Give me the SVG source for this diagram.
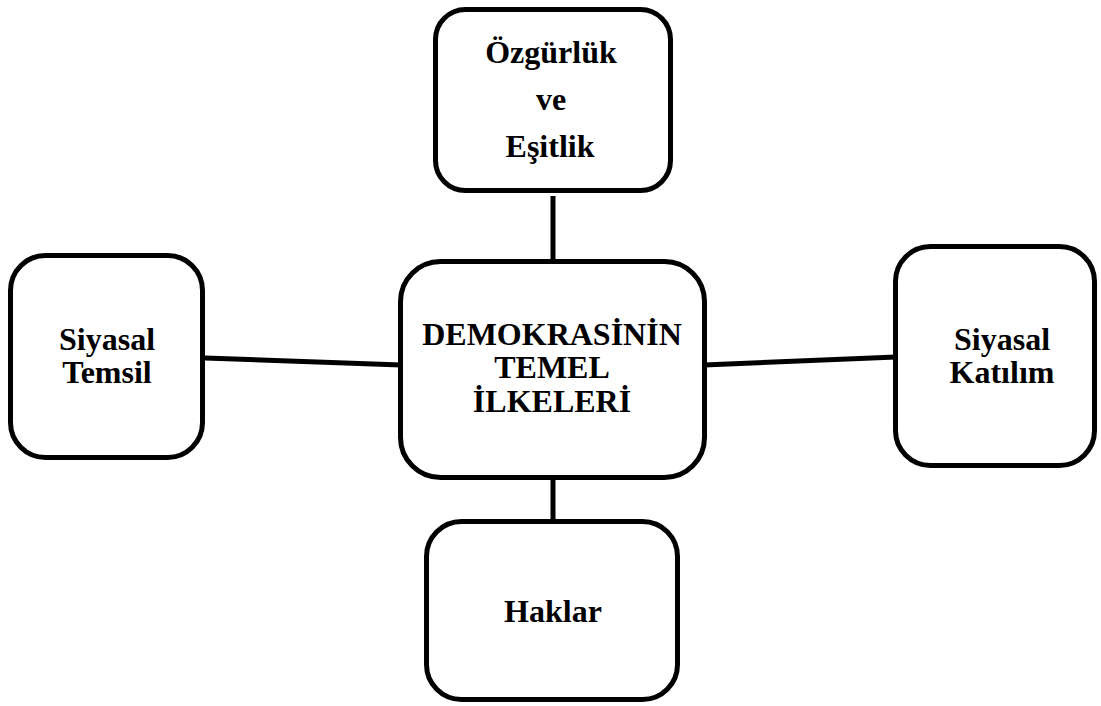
<svg xmlns="http://www.w3.org/2000/svg" width="1101" height="706" viewBox="0 0 1101 706">
<style>
.box{fill:#fff;stroke:#000;stroke-width:5}
.con{stroke:#000;stroke-width:5;fill:none}
text{font-family:"Liberation Serif","Times New Roman",serif;font-weight:bold;font-size:32px;fill:#000;text-anchor:middle}
</style>
<rect width="1101" height="706" fill="#fff"/>
<g id="connectors">
<line class="con" x1="553" y1="196" x2="553" y2="262"/>
<line class="con" x1="205" y1="358" x2="401" y2="365"/>
<line class="con" x1="704" y1="365" x2="896" y2="357"/>
<line class="con" x1="553" y1="477" x2="553" y2="522"/>
</g>
<g id="node-ozgurluk">
<rect class="box" x="435.5" y="9.5" width="235" height="181" rx="30"/>
<text x="551" y="63">Özgürlük</text>
<text x="551" y="110">ve</text>
<text x="550" y="157">Eşitlik</text>
</g>
<g id="node-center">
<rect class="box" x="400.5" y="261.5" width="304" height="216" rx="40"/>
<text x="552" y="345">DEMOKRASİNİN</text>
<text x="552" y="378">TEMEL</text>
<text x="552" y="412">İLKELERİ</text>
</g>
<g id="node-temsil">
<rect class="box" x="10.5" y="255.5" width="192" height="202" rx="35"/>
<text x="107" y="350">Siyasal</text>
<text x="107" y="383">Temsil</text>
</g>
<g id="node-katilim">
<rect class="box" x="895.5" y="246.5" width="199" height="219" rx="35"/>
<text x="1002" y="350">Siyasal</text>
<text x="1002" y="383">Katılım</text>
</g>
<g id="node-haklar">
<rect class="box" x="426.5" y="521.5" width="251" height="178" rx="35"/>
<text x="553" y="622">Haklar</text>
</g>
</svg>
